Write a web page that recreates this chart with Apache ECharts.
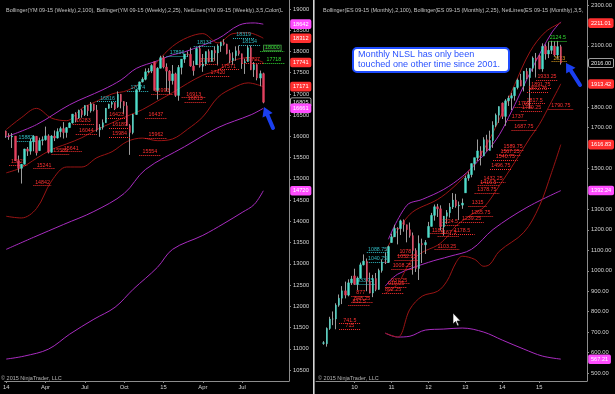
<!DOCTYPE html>
<html><head><meta charset="utf-8">
<script src="https://cdn.jsdelivr.net/npm/echarts@6/dist/echarts.min.js"></script>
<style>html,body{margin:0;padding:0;background:#000;}#c{width:615px;height:394px;}</style>
</head><body><div id="c"></div>
<script>
const FONT = "'Liberation Sans', Arial, sans-serif";
const leftTitle = "Bollinger(YM 09-15 (Weekly),2,100), Bollinger(YM 09-15 (Weekly),2,25), NetLines(YM 09-15 (Weekly),3,5,Color(L";
const rightTitle = "Bollinger(ES 09-15 (Monthly),2,100), Bollinger(ES 09-15 (Monthly),2,25), NetLines(ES 09-15 (Monthly),3,5,";
const copyright = "\u00a9 2015 NinjaTrader, LLC";
const noteLines = ["Monthly NLSL has only been", "touched one other time since 2001."];
const monthNames = ["Jan","Feb","Mar","Apr","May","Jun","Jul","Aug","Sep","Oct","Nov","Dec"];

// ---- categories ----
const leftCats = [];
{ let t = Date.UTC(2014,0,3); for (let i=0;i<94;i++){ leftCats.push(new Date(t).toISOString().slice(0,10)); t += 7*864e5; } }
const rightCats = [];
for (let y=2009;y<=2016;y++) for (let m=1;m<=12;m++){ if (y===2016 && m>4) break; rightCats.push(y+'-'+String(m).padStart(2,'0')); }

// ---- left weekly YM candles [open, close, low, high] ----
const leftOHLC = [
[16127,16019,15966,16138],[16019,15987,15920,16075],[15987,16008,15727,16080],[16008,15429,15420,16010],
[15429,15249,15150,15550],[15249,15344,14890,15350],[15344,15704,15340,15710],[15704,15653,15540,15750],
[15653,15872,15570,15950],[15872,16003,15650,16030],[16003,15615,15550,16010],[15665,15903,15660,15970],
[15903,15923,15790,16000],[15923,16013,15900,16230],[16013,15627,15600,16050],[15627,16009,15615,16030],
[16009,15961,15890,16140],[15961,16113,15950,16190],[16113,16184,15980,16230],[16184,16092,15950,16335],
[16092,16206,15970,16220],[16206,16317,16200,16330],[16317,16524,16300,16530],[16524,16376,16330,16570],
[16436,16608,16410,16630],[16608,16511,16440,16640],[16511,16728,16480,16734],[16728,16604,16480,16740],
[16604,16760,16560,16810],[16760,16621,16590,16770],[16621,16153,16110,16740],[16153,16214,15990,16290],
[16214,16323,16160,16400],[16323,16661,16320,16670],[16661,16758,16650,16770],[16758,16797,16670,16820],
[16797,16648,16620,16800],[16698,16990,16670,17060],[16990,16823,16660,17000],[16823,16719,16530,16830],
[16719,16254,16250,16810],[16254,16090,15565,16290],[16090,16515,16050,16530],[16515,17101,16510,17110],
[17101,17283,17050,17290],[17283,17344,17270,17390],[17344,17520,17320,17600],[17520,17538,17490,17605],
[17538,17668,17490,17700],[17758,17081,17080,17760],[17081,17605,16870,17630],[17605,17853,17600,17900],
[17853,17633,17600,17900],[17633,17537,17060,17720],[17537,17312,17000,17560],[17312,17472,17220,17680],
[17472,16965,16930,17500],[16965,17624,16840,17680],[17624,17819,17460,17820],[17819,17940,17730,17940],
[17940,17933,17870,18000],[17933,17656,17640,18090],[17656,17549,17430,17780],[17689,18068,17680,18090],
[18068,17653,17620,18140],[17653,17703,17520,17940],[17703,17997,17660,18000],[17997,17766,17740,18050],
[17766,18020,17760,18030],[18020,17964,17780,18115],[17964,18131,17670,18170],[18131,18212,17990,18230],
[18212,18172,18140,18290],[18172,17951,17930,18180],[17951,17789,17720,18040],[17789,17838,17680,17980],
[17898,18015,17780,18120],[18015,17947,17900,18140],[17947,17730,17590,17950],[17730,17760,17470,17830],
[17760,18086,17760,18130],[18086,17568,17560,18140],[17568,17690,17400,17750],[17690,17373,17320,17700],
[17373,17477,17180,17550],[17477,16805,16780,17500]
];

// ---- right monthly ES candles [open, close, low, high], first bar = rightFirst ----
const rightFirst = '2009-03';
const rightOHLC = [
[645,648,638,656],[643,718,629,723],[718,764,711,775],[764,764,734,801],[764,832,714,841],[832,866,824,884],
[866,902,837,925],[902,881,865,947],[881,941,875,958],[941,960,931,975],
[975,934,931,1010],[934,964,905,972],[964,1029,961,1040],[1029,1047,1026,1080],[1047,949,900,1060],[949,891,889,991],
[891,962,871,980],[962,909,900,989],[909,1001,907,1010],[1001,1043,991,1056],[1043,1041,1033,1088],[1041,1118,1038,1123],
[1138,1166,1137,1182],[1166,1207,1165,1225],[1207,1206,1129,1213],[1206,1244,1175,1250],[1244,1225,1191,1251],[1225,1201,1139,1226],
[1201,1172,1162,1236],[1172,1099,981,1187],[1099,1011,994,1110],[1011,1133,955,1173],[1133,1127,1038,1157],[1127,1138,1082,1150],
[1163,1217,1163,1239],[1217,1271,1216,1283],[1271,1313,1245,1324],[1313,1303,1263,1327],[1303,1215,1197,1320],[1215,1267,1172,1268],
[1267,1284,1230,1297],[1284,1312,1260,1331],[1312,1346,1302,1380],[1346,1317,1308,1376],[1317,1321,1248,1339],[1321,1331,1303,1353],
[1381,1453,1381,1465],[1453,1470,1440,1485],[1470,1524,1457,1525],[1524,1553,1491,1553],[1553,1586,1537,1642],[1586,1561,1515,1609],
[1561,1641,1560,1653],[1641,1588,1583,1665],[1588,1637,1588,1685],[1637,1712,1601,1731],[1712,1761,1702,1769],[1761,1803,1723,1804],
[1820,1755,1742,1823],[1755,1831,1709,1839],[1831,1844,1806,1856],[1844,1856,1786,1870],[1856,1896,1832,1897],[1896,1932,1887,1940],
[1932,1903,1902,1963],[1903,1975,1877,1977],[1975,1944,1936,1991],[1944,1990,1793,1990],[1990,2040,1973,2048],[2040,2031,1945,2065],
[2051,1987,1985,2056],[1987,2097,1973,2112],[2097,2060,2032,2107],[2060,2078,2040,2118],[2078,2099,2060,2124.5],[2099,2055,2049,2122],
[2055,2096,2037,2124],[2096,2016,2008,2105]
];

// ---- Bollinger bands [barIndex, value] ----
const lBB100Up  = [[0,15990],[10,16276],[21,16746],[32,17100],[38,17330],[43,17600],[50,17780],[55,17920],[59,17990],[70,18300],[77,18620],[82,18671],[85,18642]];
const lBB100Mid = [[0,13341],[9,13623],[19,13928],[29,14233],[39,14656],[46,15219],[59,15759],[70,16206],[81,16511],[85,16661]];
const lBB100Low = [[0,10758],[6,10829],[14,10993],[21,11345],[29,11697],[36,11979],[42,12402],[50,12918],[55,13341],[65,13670],[72,13951],[78,14210],[82,14398],[85,14720]];
const lBB25Up   = [[0,16160],[5,16440],[10,16660],[15,16430],[20,16370],[25,16660],[30,16830],[35,17000],[40,17080],[45,17300],[50,17760],[55,18120],[60,18330],[65,18420],[70,18200],[75,18420],[80,18440],[85,18312]];
const lBB25Mid  = [[0,15142],[5,15262],[10,15483],[15,15691],[20,15824],[25,15969],[30,16163],[35,16319],[40,16478],[45,16629],[50,16832],[55,17030],[60,17250],[65,17440],[70,17560],[75,17782],[80,17852],[85,17741]];
const lBB25Low  = [[0,14120],[5,14080],[10,14300],[15,14950],[20,15280],[25,15280],[30,15500],[35,15640],[40,15880],[45,15960],[50,15900],[55,15940],[60,16170],[65,16460],[70,16920],[75,17140],[80,17260],[85,17171]];

const rBB100Up  = [[23,1154],[29,1320],[34,1349],[41,1398],[47,1461],[52,1534],[58,1641],[62,1749],[70,1998],[76,2163],[79,2217]];
const rBB100Mid = [[22,925],[26,983],[36,1041],[43,1071],[50,1105],[57,1202],[68,1310],[79,1392]];
const rBB100Low = [[22,695],[26,676],[30,680],[35,710],[41,715],[47,720],[54,700],[60,661],[67,617],[73,583],[79,568]];
const rBB25Up   = [[22,1095],[30,1276],[39,1349],[44,1407],[49,1485],[54,1593],[59,1739],[64,1910],[69,2071],[74,2168],[79,2212]];
const rBB25Mid  = [[22,890],[26,935],[30,1040],[34,1090],[39,1125],[42,1165],[45,1220],[51,1285],[54,1310],[59,1415],[64,1530],[69,1650],[72,1715],[76,1828],[79,1914]];
const rBB25Low  = [[22,695],[26,676],[30,812],[34,876],[39,900],[42,949],[45,1041],[47,1071],[51,1056],[54,1022],[56,1032],[59,1095],[67,1188],[72,1315],[76,1480],[79,1617]];

// ---- NetLines [startBar, endBar, level] ----
const lNetRed = [[1,7,15320],[9,15,14842],[9,16,15241],[15,21,15589],[18,25,15641],[23,30,16044],[22,29,16283],[34,41,15984],[34,41,16189],[33,40,16423],
  [46,53,16437],[46,53,15962],[44,51,15554],[48,55,16993],[58,66,16913],[59,66,16813],[66,74,17420],[63,70,17700],[70,77,17571],[78,85,17727]];
const lNetCyan = [[3,10,15882],[30,37,16816],[40,47,17074],[53,60,17896],[62,69,18131],[75,82,18319],[77,84,18154]];
const lNetGreen = [[84,92,18000],[85,92,17718]];
const rNetRed = [[71,78,1933.25],[69,76,1891.75],[68,75,1872.75],[67,74,1817.5],[64,70,1799],[66,73,1780.25],[75,83,1790.75],[62,68,1737],[63,71,1687.75],
  [60,67,1589.75],[59,66,1567.25],[57,65,1540.75],[56,63,1496.75],[53,61,1432.25],[52,59,1416.5],[51,59,1378.75],[49,55,1315],[49,57,1265.75],
  [46,54,1239.25],[40,46,1224.5],[43,51,1178.5],[39,46,1167.5],[38,46,1103.25],[36,42,1182],[26,31,1078],[25,33,1052.25],[24,31,1008.25],
  [23,30,937.25],[22,29,919.25],[21,28,892.25],[11,17,877],[11,18,848.25],[10,17,832.5],[7,14,741.5],[7,14,715]];
const rNetCyan = [[16,23,1088.75],[16,23,1040.75],[12,19,933.75]];
const rNetGreen = [[75,81,2124.5]];
const rNetOrange = [[76,81,2023]];

// ---- axis price tags ----
const lTagVals = [18642,18312,17741,17171,16805,16661,14720];
const lTagKinds = ['m','r','r','r','p','m','m'];
const rTagVals = [2211.01,2016.00,1913.42,1616.83,1392.24,567.21];
const rTagKinds = ['r','p','r','r','m','m'];

// ---- tick labels ----
const leftTickVals = [10500,11000,11500,12000,12500,13000,13500,14000,14500,15000,15500,16000,16500,17000,17500,18000,18500,19000];
const rightTickVals = [500,600,700,800,900,1000,1100,1200,1300,1500,1700,1800,2100,2300];

// ================= build =================
const UP='#4fdccb', DOWN='#e2405e', WICK='#9c9c9c', PURPLE='#a92cc0', DKRED='#9a1414';
const NRED='#ff3030', NCYAN='#2fb8c0', NGREEN='#33dd33', NORANGE='#e0a020';
const AX='#8c8c8c', TXT='#d2d2d2';
const TAG = { m:{bg:'#ff4cff',bd:'#ff4cff',fg:'#fff'}, r:{bg:'#ff3030',bd:'#ff3030',fg:'#fff'}, p:{bg:'#000',bd:'#cfcfcf',fg:'#e8e8e8'} };

const rightStart = rightCats.indexOf(rightFirst);
const leftWick = leftOHLC.map((d,i)=>[i,d[0],d[1],d[2],d[3]]);
const leftBody = leftOHLC.map((d,i)=>[i,d[0],d[1],Math.min(d[0],d[1]),Math.max(d[0],d[1])]);
const rightWick = rightOHLC.map((d,i)=>[i+rightStart,d[0],d[1],d[2],d[3]]);
const rightBody = rightOHLC.map((d,i)=>[i+rightStart,d[0],d[1],Math.min(d[0],d[1]),Math.max(d[0],d[1])]);

function leftLabel(idx){
  if (idx >= leftOHLC.length) return '';
  const m = +leftCats[idx].slice(5,7);
  const pm = idx===0 ? 12 : +leftCats[idx-1].slice(5,7);
  if (m===pm || [1,4,7,10].indexOf(m)<0) return '';
  return m===1 ? leftCats[idx].slice(2,4) : monthNames[m-1];
}
function rightLabel(idx){
  if (idx < rightStart || idx >= rightStart + rightOHLC.length) return '';
  const c = rightCats[idx];
  return c.slice(5,7)==='01' ? c.slice(2,4) : '';
}

function netItems(list, color, fmt, extra){
  return list.map(([s,e,v])=>[
    { coord:[s,v], lineStyle:{color:color,type:'dotted',width:1},
      label:Object.assign({show:true,position:'insideMiddleTop',distance:1,formatter:fmt(v),color:color,fontSize:5.3,fontFamily:FONT}, extra||{}) },
    { coord:[e,v] }
  ]);
}
function tagItems(vals, kinds, fmt){
  return vals.map((v,i)=>({ yAxis:v, lineStyle:{color:'rgba(0,0,0,0)',width:0},
    label:{show:true,position:'end',distance:2,formatter:fmt(v),color:TAG[kinds[i]].fg,backgroundColor:TAG[kinds[i]].bg,
      borderColor:TAG[kinds[i]].bd,borderWidth:0.8,borderRadius:1,padding:[1,2,0,2],fontSize:5.6,lineHeight:7,fontFamily:FONT} }));
}
const fmtL = v=>String(Math.round(v));
const fmtR = v=>String(v);
const fmtR2 = v=>v.toFixed(2);

function xAxisCfg(grid, cats, labelFn){
  const iv = (i)=>labelFn(i)!=='';
  return { type:'category', gridIndex:grid, data:cats, boundaryGap:true,
    axisLine:{show:true,lineStyle:{color:AX,width:1}},
    axisTick:{show:true,length:2,alignWithLabel:true,interval:iv,lineStyle:{color:AX}},
    axisLabel:{interval:iv,formatter:(v,i)=>labelFn(i),color:TXT,fontSize:5.8,fontFamily:FONT,margin:3},
    splitLine:{show:false} };
}
function yAxisCfg(grid, min, max, ticks, fmt){
  return { type:'value', gridIndex:grid, position:'right', min:min, max:max, scale:true,
    axisLine:{show:true,lineStyle:{color:AX,width:1}},
    axisTick:{show:true,length:2,customValues:ticks,lineStyle:{color:AX}},
    axisLabel:{customValues:ticks,formatter:fmt,color:TXT,fontSize:5.8,fontFamily:FONT,margin:4},
    splitLine:{show:false} };
}
function line(data, color, xi){
  return { type:'line', xAxisIndex:xi, yAxisIndex:xi, data:data, showSymbol:false, smooth:0.35,
    lineStyle:{color:color,width:1}, z:3, silent:true };
}
function candleSeries(xi, wick, body, marks){
  return [
    { type:'candlestick', xAxisIndex:xi, yAxisIndex:xi, data:wick, encode:{x:0,y:[1,2,3,4]}, barWidth:1, z:4, silent:true,
      itemStyle:{color:WICK,color0:WICK,borderColor:WICK,borderColor0:WICK,borderWidth:1} },
    { type:'candlestick', xAxisIndex:xi, yAxisIndex:xi, data:body, encode:{x:0,y:[1,2,3,4]}, barWidth:2, z:5, silent:true,
      itemStyle:{color:UP,color0:DOWN,borderColor:UP,borderColor0:DOWN,borderWidth:0.4},
      markLine:{symbol:['none','none'],silent:true,animation:false,data:marks} }
  ];
}

const leftMarks = [].concat(
  netItems(lNetRed, NRED, fmtL),
  netItems(lNetCyan, NCYAN, fmtL),
  netItems(lNetGreen.slice(0,1), NGREEN, fmtL, {backgroundColor:'#101010',borderColor:'#4a4',borderWidth:0.8,padding:[0,1]}),
  netItems(lNetGreen.slice(1), NGREEN, fmtL),
  tagItems(lTagVals, lTagKinds, fmtL)
);
const rightMarks = [].concat(
  netItems(rNetRed, NRED, fmtR),
  netItems(rNetCyan, NCYAN, fmtR),
  netItems(rNetGreen, NGREEN, fmtR),
  netItems(rNetOrange, NORANGE, fmtR),
  tagItems(rTagVals, rTagKinds, fmtR2)
);

const arrowL = {tail:[273,128], tip:[264,107]};
const arrowR = {tail:[580,85], tip:[566,63]};
function arrow(a){
  const dx=a.tip[0]-a.tail[0], dy=a.tip[1]-a.tail[1], L=Math.hypot(dx,dy), ux=dx/L, uy=dy/L, px=-uy, py=ux;
  const bx=a.tip[0]-9*ux, by=a.tip[1]-9*uy;
  return [
    {type:'polyline',shape:{points:[a.tail,[bx,by]]},style:{stroke:'#1a3ff0',lineWidth:4,lineCap:'round'},z:50},
    {type:'polygon',shape:{points:[a.tip,[bx+5.5*px,by+5.5*py],[bx-5.5*px,by-5.5*py]]},style:{fill:'#1a3ff0'},z:50}
  ];
}

const option = {
  backgroundColor:'#000',
  animation:false,
  title:[
    {text:leftTitle,left:1,top:2,textStyle:{color:'#c4c4c4',fontSize:5.5,fontWeight:'normal',fontFamily:FONT,width:287,overflow:'truncate',ellipsis:''}},
    {text:rightTitle,left:318,top:2,textStyle:{color:'#c4c4c4',fontSize:5.5,fontWeight:'normal',fontFamily:FONT,width:268,overflow:'truncate',ellipsis:''}}
  ],
  grid:[
    {left:0,top:0,width:289,height:381},
    {left:316,top:0,width:271,height:381}
  ],
  xAxis:[ xAxisCfg(0,leftCats,leftLabel), xAxisCfg(1,rightCats,rightLabel) ],
  yAxis:[ yAxisCfg(0,10242,19211,leftTickVals,v=>String(v)), yAxisCfg(1,461,2324,rightTickVals,v=>v.toFixed(2)) ],
  series:[].concat(
    [line(lBB100Up,PURPLE,0), line(lBB100Mid,PURPLE,0), line(lBB100Low,PURPLE,0),
     line(lBB25Up,DKRED,0), line(lBB25Mid,DKRED,0), line(lBB25Low,DKRED,0)],
    candleSeries(0,leftWick,leftBody,leftMarks),
    [line(rBB100Up,PURPLE,1), line(rBB100Mid,PURPLE,1), line(rBB100Low,PURPLE,1),
     line(rBB25Up,DKRED,1), line(rBB25Mid,DKRED,1), line(rBB25Low,DKRED,1)],
    candleSeries(1,rightWick,rightBody,rightMarks)
  ),
  graphic:[].concat(
    [{type:'rect',shape:{x:313,y:0,width:1.6,height:394},style:{fill:'#d6d6d6'},z:40},
     {type:'text',left:1,top:375,style:{text:copyright,fill:'#b4b4b4',fontSize:5.5,fontFamily:FONT},z:40},
     {type:'text',left:318,top:375,style:{text:copyright,fill:'#b4b4b4',fontSize:5.5,fontFamily:FONT},z:40},
     {type:'group',left:352,top:47,z:60,children:[
        {type:'rect',shape:{x:0,y:0,width:156,height:24,r:4},style:{fill:'#fff',stroke:'#1e4cff',lineWidth:2}},
        {type:'text',x:5,y:2,style:{text:noteLines[0],fill:'#2a52ff',fontSize:9.1,fontFamily:FONT}},
        {type:'text',x:5,y:12,style:{text:noteLines[1],fill:'#2a52ff',fontSize:9.1,fontFamily:FONT}}
     ]},
     {type:'polygon',shape:{points:[[453,313],[453,324],[455.5,321.5],[457.5,326],[459,325.3],[457,321],[460.5,321]]},style:{fill:'#fff',stroke:'#000',lineWidth:0.6},z:60}
    ],
    arrow(arrowL), arrow(arrowR)
  )
};
const chart = echarts.init(document.getElementById('c'), null, {renderer:'canvas'});
chart.setOption(option);
</script></body></html>
